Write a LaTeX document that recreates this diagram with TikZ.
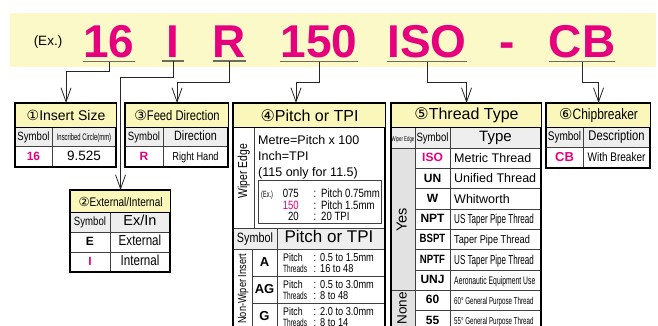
\documentclass[tikz,border=0pt]{standalone}
\usepackage{fontspec}
\setmainfont{Liberation Sans}
\newfontfamily\narrowfont[FakeStretch=0.8]{Liberation Sans}
\newfontfamily\condfont[FakeStretch=0.62]{Liberation Sans}
\newfontfamily\circfont{DejaVu Sans}
\usetikzlibrary{arrows.meta}
\newcommand{\setfs}[1]{\fontsize{#1}{#1}\selectfont}
\definecolor{bandyellow}{RGB}{252,249,200}
\definecolor{headyellow}{RGB}{251,246,186}
\definecolor{codepink}{RGB}{230,0,126}
\definecolor{rowgray}{RGB}{238,238,238}
\definecolor{sidegray}{RGB}{226,226,226}
\definecolor{ulinegray}{RGB}{110,108,95}

\begin{document}
\begin{tikzpicture}[x=1pt, y=-1pt,
    cell/.style={inner sep=0pt, text height=.72em, text depth=0pt},
    txt/.style={cell, font=\setfs{#1}},
    nar/.style={cell, font=\narrowfont\setfs{#1}},
    cnd/.style={cell, font=\condfont\setfs{#1}},
    sym/.style={cell, font=\bfseries\setfs{#1}},
    code/.style={font=\bfseries\setfs{46}, text=codepink, inner xsep=0pt, inner ysep=4pt, minimum width=22pt, anchor=base},
    uline/.style={draw=ulinegray, line width=1.5pt},
    conn/.style={draw=black!85, line width=0.8pt, -{Straight Barb[length=14pt, width=10pt]}},
    head/.style={draw=black, line width=1.1pt, fill=headyellow, anchor=north west, inner sep=0pt, minimum height=24pt},
    frame/.style={draw=black, line width=1.1pt},
    rule/.style={draw=black!75, line width=0.6pt}]

    \useasboundingbox (0,0) rectangle (658,325);
    \clip (0,0) rectangle (658,325);

    % =================================================================
    % 1. BANNER WITH THE EXAMPLE CODE
    % =================================================================
    \fill[bandyellow] (10,13) rectangle (656,67);
    \node[txt=13.5] (ex) at (48,42) {(Ex.)};
    \node[code] (c16) at (109,57) {16};
    \node[code] (cI) at (173,57) {I};
    \node[code] (cR) at (229.5,57) {R};
    \node[code] (c150) at (319,57) {150};
    \node[code] (cISO) at (427,57) {ISO};
    \node[code, minimum width=0pt] (cdash) at (507,57) {-};
    \node[code] (cCB) at (582,57) {CB};
    \foreach \n in {c16,cI,cR,c150,cISO,cCB}
        \draw[uline] (\n.south west) -- (\n.south east);

    % =================================================================
    % 2. TABLE 1: INSERT SIZE
    % =================================================================
    \fill[rowgray] (15,127) rectangle (116,146);
    \draw[rule] (15,146) -- (116,146) (52,127) -- (52,167);
    \draw[frame] (15,103) rectangle (116,167);
    \node[head, minimum width=101pt] (size) at (15,103) {\setfs{14}{\circfont ①}Insert Size};
    \node[nar=12] (size-sym) at (33.5,136.5) {Symbol};
    \node[cnd=9.5] (size-ic) at (84,136.5) {Inscribed Circle(mm)};
    \node[sym=12, text=codepink] (size-16) at (33.5,156.5) {16};
    \node[txt=13.5] (size-val) at (84,156.5) {9.525};

    % =================================================================
    % 3. TABLE 3: FEED DIRECTION
    % =================================================================
    \fill[rowgray] (125,127) rectangle (228,146);
    \draw[rule] (125,146) -- (228,146) (163,127) -- (163,167);
    \draw[frame] (125,103) rectangle (228,167);
    \node[head, minimum width=103pt] (feed) at (125,103) {\narrowfont\setfs{14}{\circfont ③}Feed Direction};
    \node[nar=12] (feed-sym) at (144,136.5) {Symbol};
    \node[nar=13.5] (feed-dir) at (195.5,136.5) {Direction};
    \node[sym=12, text=codepink] (feed-R) at (144,156.5) {R};
    \node[nar=11.5] (feed-val) at (195.5,156.5) {Right Hand};

    % =================================================================
    % 4. TABLE 2: EXTERNAL / INTERNAL
    % =================================================================
    \fill[rowgray] (70,212) rectangle (170,232);
    \draw[rule] (70,232) -- (170,232) (70,252) -- (170,252) (110,212) -- (110,272);
    \draw[frame] (70,190) rectangle (170,272);
    \node[head, minimum width=100pt, minimum height=22pt] (ext) at (70,190) {\narrowfont\setfs{12.5}{\circfont ②}External/Internal};
    \node[nar=12] (ext-sym) at (90,222) {Symbol};
    \node[txt=14.5] (ext-exin) at (140,222) {Ex/In};
    \node[sym=12] (ext-E) at (90,242) {E};
    \node[nar=14.5] (ext-ext) at (140,242) {External};
    \node[sym=12, text=codepink] (ext-I) at (90,262) {I};
    \node[nar=14.5] (ext-int) at (140,262) {Internal};

    % =================================================================
    % 5. TABLE 4: PITCH OR TPI
    % =================================================================
    \fill[rowgray] (233,228) rectangle (385,249);
    \draw[rule] (254,127) -- (254,228) (233,228) -- (385,228) (233,249) -- (385,249);
    \draw[rule] (277,228) -- (277,340) (252,249) -- (252,340);
    \draw[rule] (252,276) -- (385,276) (252,303) -- (385,303);
    \draw[frame] (233,103) rectangle (385,340);
    \node[head, minimum width=152pt] (pitch) at (233,103) {\setfs{16}{\circfont ④}Pitch or TPI};
    \coordinate (pitchin) at (296,103);

    % Wiper edge part
    \node[nar=13, rotate=90] (wiper) at (243.5,171) {Wiper Edge};
    \node[txt=12.5, anchor=base west] (metre) at (258,144) {Metre=Pitch x 100};
    \node[txt=12.5, anchor=base west] (inch) at (258,160) {Inch=TPI};
    \node[txt=12.5, anchor=base west] (only) at (258,176) {(115 only for 11.5)};
    \draw[rule, line width=0.8pt] (258,180) rectangle (381,223);
    \node[cnd=9, anchor=base west] (exsmall) at (261,197) {(Ex.)};
    \foreach \num/\val/\yb/\col in {075/Pitch 0.75mm/197/black, 150/Pitch 1.5mm/209/codepink, 20/20 TPI/220/black} {
        \node[nar=12, anchor=base east, text=\col] (exn-\num) at (299,\yb) {\num};
        \node[nar=12, anchor=base] (exc-\num) at (315,\yb) {:};
        \node[nar=12, anchor=base west] (exv-\num) at (321,\yb) {\val};
    }

    % Non-wiper part
    \node[nar=13.5] (psym) at (255,238.5) {Symbol};
    \node[txt=17] (ppt) at (329,238.5) {Pitch or TPI};
    \node[nar=11.5, rotate=90, anchor=east] (nonwiper) at (242.5,254) {Non-Wiper Insert};
    \foreach \sy/\pv/\tv/\ytop in {A/0.5 to 1.5mm/16 to 48/249, AG/0.5 to 3.0mm/8 to 48/276, G/2.0 to 3.0mm/8 to 14/303} {
        \node[sym=13] (p-\sy) at (264.5,\ytop+13.5) {\sy};
        \node[nar=11, anchor=base west] (pp-\sy) at (283,\ytop+12) {Pitch};
        \node[cnd=10.5, anchor=base west] (pt-\sy) at (283,\ytop+23) {Threads};
        \node[nar=11.5, anchor=base] (pc-\sy) at (315,\ytop+12) {:};
        \node[nar=11.5, anchor=base] (tc-\sy) at (315,\ytop+23) {:};
        \node[nar=11.5, anchor=base west] (pv-\sy) at (320,\ytop+12) {\pv};
        \node[nar=11.5, anchor=base west] (tv-\sy) at (320,\ytop+23) {\tv};
    }

    % =================================================================
    % 6. TABLE 5: THREAD TYPE
    % =================================================================
    \fill[sidegray] (391,148) rectangle (415,340);
    \fill[rowgray] (391,127) rectangle (541,148);
    \draw[rule] (415,127) -- (415,340) (450,127) -- (450,340) (391,148) -- (541,148);
    \foreach \i in {1,...,6}
        \draw[rule] (415,148+20.3*\i) -- (541,148+20.3*\i);
    \draw[rule] (391,290) -- (541,290) (415,310.3) -- (541,310.3);
    \draw[frame] (391,103) rectangle (541,340);
    \node[head, minimum width=150pt] (thread) at (391,103) {\setfs{16}{\circfont ⑤}Thread Type};
    \node[cnd=7] (thr-we) at (403,137.5) {Wiper Edge};
    \node[nar=12] (thr-sym) at (432.5,137.5) {Symbol};
    \node[txt=15] (thr-type) at (495.5,137.5) {Type};
    \node[txt=14.5, rotate=90] (yes) at (403,220) {Yes};
    \node[txt=13.5, rotate=90, anchor=east] (none) at (403,292) {None};
    \foreach \sy/\col/\desc [count=\row from 0] in {
        ISO/codepink/{\setfs{12.5}Metric Thread},
        UN/black/{\setfs{12.5}Unified Thread},
        W/black/{\setfs{12.5}Whitworth},
        NPT/black/{\condfont\setfs{13}US Taper Pipe Thread},
        {\narrowfont BSPT}/black/{\narrowfont\setfs{11.5}Taper Pipe Thread},
        {\narrowfont NPTF}/black/{\condfont\setfs{13}US Taper Pipe Thread},
        UNJ/black/{\condfont\setfs{11}Aeronautic Equipment Use},
        60/black/{\condfont\setfs{10}60° General Purpose Thread},
        55/black/{\condfont\setfs{10}55° General Purpose Thread}} {
        \node[sym=12, text=\col] (tsym-\row) at (432.5,148+20.3*\row+10.15) {\sy};
        \node[anchor=base west, inner sep=0pt] (ttype-\row) at (454,148+20.3*\row+14.5) {\desc};
    }

    % =================================================================
    % 7. TABLE 6: CHIPBREAKER
    % =================================================================
    \fill[rowgray] (546,127) rectangle (650,147);
    \draw[rule] (546,147) -- (650,147) (583,127) -- (583,168);
    \draw[frame] (546,103) rectangle (650,168);
    \node[head, minimum width=104pt] (chip) at (546,103) {\narrowfont\setfs{15}{\circfont ⑥}Chipbreaker};
    \node[nar=12.5] (chip-sym) at (564.5,137) {Symbol};
    \node[nar=14] (chip-desc) at (616.5,137) {Description};
    \node[sym=13, text=codepink] (chip-CB) at (564.5,157.5) {CB};
    \node[nar=12.5] (chip-val) at (616.5,157.5) {With Breaker};

    % =================================================================
    % 8. CONNECTORS FROM THE CODE TO THE TABLES
    % =================================================================
    \draw[conn] (c16.south) -- ++(0,10) -| (size.north);
    \draw[conn] (cI.south) -- ++(0,16) -| (ext.north);
    \draw[conn] (cR.south) -- ++(0,21) -| (feed.north);
    \draw[conn] (c150.south) -- ++(0,21) -| (pitchin);
    \draw[conn] (cISO.south) -- ++(0,21) -| (thread.north);
    \draw[conn] (cCB.south) -- ++(0,21) -| (chip.north);

\end{tikzpicture}
\end{document}
